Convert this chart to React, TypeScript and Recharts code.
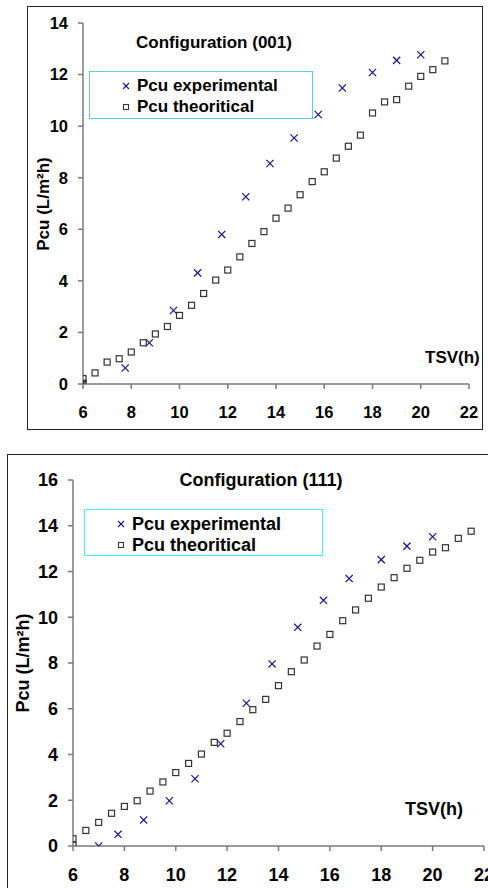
import React from 'react';
import { ScatterChart, Scatter, XAxis, YAxis } from 'recharts';

// Configuration (001)
const expX001 = [6, 7.75, 8.75, 9.75, 10.75, 11.75, 12.75, 13.75, 14.75, 15.75, 16.75, 18, 19, 20];
const expY001 = [0, 0.62, 1.6, 2.85, 4.31, 5.8, 7.26, 8.55, 9.54, 10.45, 11.48, 12.08, 12.55, 12.77];
const theoX001 = [6, 6, 6.5, 7, 7.5, 8, 8.5, 9, 9.5, 10, 10.5, 11, 11.5, 12, 12.5, 13, 13.5, 14, 14.5, 15, 15.5, 16, 16.5, 17, 17.5, 18, 18.5, 19, 19.5, 20, 20.5, 21];
const theoY001 = [0.03, 0.21, 0.43, 0.85, 0.98, 1.24, 1.6, 1.94, 2.23, 2.66, 3.05, 3.51, 4.03, 4.42, 4.93, 5.45, 5.91, 6.43, 6.82, 7.34, 7.85, 8.23, 8.76, 9.22, 9.65, 10.51, 10.94, 11.03, 11.55, 11.93, 12.19, 12.53];

// Configuration (111)
const expX111 = [7, 7.75, 8.75, 9.75, 10.75, 11.75, 12.75, 13.75, 14.75, 15.75, 16.75, 18, 19, 20];
const expY111 = [0, 0.51, 1.14, 1.98, 2.94, 4.47, 6.24, 7.96, 9.56, 10.74, 11.69, 12.52, 13.11, 13.52];
const theoX111 = [6, 6, 6.5, 7, 7.5, 8, 8.5, 9, 9.5, 10, 10.5, 11, 11.5, 12, 12.5, 13, 13.5, 14, 14.5, 15, 15.5, 16, 16.5, 17, 17.5, 18, 18.5, 19, 19.5, 20, 20.5, 21, 21.5];
const theoY111 = [0.03, 0.32, 0.68, 1.03, 1.43, 1.73, 1.98, 2.4, 2.8, 3.21, 3.61, 4.02, 4.53, 4.93, 5.44, 5.96, 6.41, 7.01, 7.62, 8.13, 8.74, 9.25, 9.85, 10.32, 10.83, 11.32, 11.73, 12.14, 12.49, 12.85, 13.04, 13.45, 13.76];

const xTicks = [6, 8, 10, 12, 14, 16, 18, 20, 22];
const yTicks001 = [0, 2, 4, 6, 8, 10, 12, 14];
const yTicks111 = [0, 2, 4, 6, 8, 10, 12, 14, 16];

const seriesNames = ['Pcu experimental', 'Pcu theoritical'];

const FONT = '"Liberation Sans", Arial, sans-serif';
const NAVY = '#14148c';
const AXIS = '#7a7a7a';

const toPoints = (xs: number[], ys: number[]) => xs.map((x, i) => ({ x, y: ys[i] }));

const XMark = (props: any) => {
  const { cx, cy } = props;
  const r = 3.6;
  return (
    <g stroke={NAVY} strokeWidth={1.2}>
      <line x1={cx - r} y1={cy - r} x2={cx + r} y2={cy + r} />
      <line x1={cx - r} y1={cy + r} x2={cx + r} y2={cy - r} />
    </g>
  );
};

const SquareMark = (props: any) => {
  const { cx, cy } = props;
  return <rect x={cx - 3} y={cy - 3} width={6} height={6} fill="none" stroke="#333" strokeWidth={1.2} />;
};

interface PanelProps {
  top: number;
  width: number;
  height: number;
  margin: { top: number; right: number; bottom: number; left: number };
  yTicks: number[];
  yMax: number;
  exp: { x: number; y: number }[];
  theo: { x: number; y: number }[];
  tickSize: number;
}

function Panel({ top, width, height, margin, yTicks, yMax, exp, theo, tickSize }: PanelProps) {
  const tick = { fill: '#000', fontSize: tickSize, fontWeight: 700, fontFamily: FONT };
  return (
    <div style={{ position: 'absolute', left: 0, top, width, height }}>
      <ScatterChart width={width} height={height} margin={margin}>
        <XAxis
          type="number"
          dataKey="x"
          domain={[6, 22]}
          ticks={xTicks}
          interval={0}
          height={30}
          tickSize={5}
          tickMargin={17}
          stroke={AXIS}
          strokeWidth={1.5}
          tick={tick}
          allowDataOverflow
        />
        <YAxis
          type="number"
          dataKey="y"
          domain={[0, yMax]}
          ticks={yTicks}
          interval={0}
          width={40}
          tickSize={5}
          tickMargin={10}
          stroke={AXIS}
          strokeWidth={1.5}
          tick={tick}
          allowDataOverflow
        />
        <Scatter name={seriesNames[0]} data={exp} shape={XMark} isAnimationActive={false} />
        <Scatter name={seriesNames[1]} data={theo} shape={SquareMark} isAnimationActive={false} />
      </ScatterChart>
    </div>
  );
}

function LegendBox({ left, top, width, height, border, fontSize }: any) {
  return (
    <div
      style={{
        position: 'absolute',
        left,
        top,
        width,
        height,
        boxSizing: 'border-box',
        border: `1.5px solid ${border}`,
        background: '#fff',
        fontFamily: FONT,
        fontWeight: 700,
        fontSize,
      }}
    >
      {seriesNames.map((name, i) => (
        <div key={name} style={{ position: 'absolute', left: 32, top: 4 + i * 21, whiteSpace: 'nowrap', lineHeight: `${fontSize + 2}px` }}>
          <svg width={10} height={10} style={{ position: 'absolute', left: -1, top: (fontSize + 2) / 2 - 5 }}>
            {i === 0 ? (
              <g stroke={NAVY} strokeWidth={1.1}>
                <line x1={2} y1={2} x2={8} y2={8} />
                <line x1={2} y1={8} x2={8} y2={2} />
              </g>
            ) : (
              <rect x={2.5} y={2.5} width={5} height={5} fill="none" stroke="#333" strokeWidth={1.1} />
            )}
          </svg>
          <span style={{ marginLeft: 15 }}>{name}</span>
        </div>
      ))}
    </div>
  );
}

const textStyle = (fontSize: number): React.CSSProperties => ({
  position: 'absolute',
  fontFamily: FONT,
  fontWeight: 700,
  fontSize,
  whiteSpace: 'nowrap',
  lineHeight: 1,
  color: '#000',
});

export default function App() {
  return (
    <div style={{ position: 'absolute', left: 0, top: 0, width: 488, height: 888, overflow: 'hidden', background: '#fff' }}>
      {/* top panel */}
      <div style={{ position: 'absolute', left: 27, top: 6, width: 456, height: 424, boxSizing: 'border-box', border: '1.5px solid #222' }} />
      <Panel
        top={0}
        width={488}
        height={440}
        margin={{ top: 23, right: 19, bottom: 26, left: 43 }}
        yTicks={yTicks001}
        yMax={14}
        exp={toPoints(expX001, expY001)}
        theo={toPoints(theoX001, theoY001)}
        tickSize={16.5}
      />
      <div style={{ ...textStyle(17), left: 214, top: 34, transform: 'translateX(-50%)' }}>Configuration (001)</div>
      <LegendBox left={89} top={71} width={224} height={48} border="#5ccbf2" fontSize={17} />
      <div style={{ ...textStyle(17), left: 43, top: 204, transform: 'translate(-50%, -50%) rotate(-90deg)' }}>Pcu (L/m²h)</div>
      <div style={{ ...textStyle(17), left: 425, top: 349 }}>TSV(h)</div>

      {/* bottom panel */}
      <div style={{ position: 'absolute', left: 7, top: 454, width: 520, height: 480, boxSizing: 'border-box', border: '1.5px solid #222' }} />
      <Panel
        top={440}
        width={488}
        height={448}
        margin={{ top: 40, right: 4, bottom: 12, left: 33 }}
        yTicks={yTicks111}
        yMax={16}
        exp={toPoints(expX111, expY111)}
        theo={toPoints(theoX111, theoY111)}
        tickSize={18}
      />
      <div style={{ ...textStyle(18), left: 261, top: 471, transform: 'translateX(-50%)' }}>Configuration (111)</div>
      <LegendBox left={84} top={509} width={239} height={47} border="#45eef0" fontSize={18} />
      <div style={{ ...textStyle(18), left: 23, top: 663, transform: 'translate(-50%, -50%) rotate(-90deg)' }}>Pcu (L/m²h)</div>
      <div style={{ ...textStyle(18), left: 405, top: 800 }}>TSV(h)</div>
    </div>
  );
}
